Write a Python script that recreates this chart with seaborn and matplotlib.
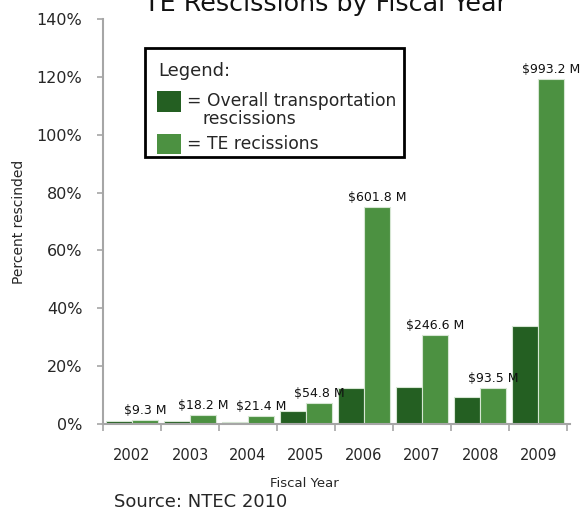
import matplotlib
matplotlib.use("Agg")
import matplotlib.pyplot as plt
from matplotlib.patches import Rectangle
from matplotlib.ticker import FixedLocator, FuncFormatter
import seaborn as sns
import pandas as pd

# Fiscal years and share of funds rescinded (%)
years = ["2002", "2003", "2004", "2005", "2006", "2007", "2008", "2009"]
overall_pct = [1.0, 1.0, 0.8, 4.4, 12.6, 12.9, 9.3, 33.8]
te_pct = [1.5, 3.2, 2.8, 7.3, 75.0, 30.7, 12.4, 119.3]
# TE rescission amounts in millions of dollars
te_amount = [9.3, 18.2, 21.4, 54.8, 601.8, 246.6, 93.5, 993.2]
series_names = ["Overall transportation rescissions", "TE recissions"]
colors = ["#245f22", "#4c9141"]

df = pd.DataFrame({
    "year": years * 2,
    "pct": overall_pct + te_pct,
    "series": [series_names[0]] * len(years) + [series_names[1]] * len(years),
})

sns.set_theme(style="white")
plt.rcParams["font.family"] = ["DejaVu Sans"]

W, H = 583, 512
fig = plt.figure(figsize=(W / 100, H / 100), dpi=100)


def fx(x):
    return x / W


def fy(y):
    return 1 - y / H


AX_L, AX_R, AX_T, AX_B = 103, 570, 19, 424
ax = fig.add_axes([fx(AX_L), fy(AX_B), (AX_R - AX_L) / W, (AX_B - AX_T) / H])

sns.barplot(data=df, x="year", y="pct", hue="series", palette=colors,
            saturation=1, width=0.91, gap=0, edgecolor="#d6e6d3",
            linewidth=0.8, legend=False, ax=ax)

ax.set_ylim(0, 140)
ax.set_xlim(-0.5, 7.55)
ax.set_yticks(range(0, 141, 20))
ax.yaxis.set_major_formatter(FuncFormatter(lambda v, p: f"{int(v)}%"))
ax.tick_params(axis="y", which="major", direction="out", length=4.3, width=1.2,
               color="#a6a6a6", labelsize=11.5, pad=10.5, left=True)

# category labels centred, tick marks at category boundaries
ax.set_xticks(range(len(years)))
ax.set_xticklabels(years)
ax.tick_params(axis="x", which="major", length=0, labelsize=10.5, pad=17)
ax.xaxis.set_minor_locator(FixedLocator([i - 0.5 for i in range(len(years) + 1)]))
ax.tick_params(axis="x", which="minor", direction="out", length=5, width=1.2,
               color="#a6a6a6", bottom=True)

for side in ["top", "right"]:
    ax.spines[side].set_visible(False)
for side in ["left", "bottom"]:
    ax.spines[side].set_color("#a6a6a6")
    ax.spines[side].set_linewidth(1.5)

ax.set_xlabel("Fiscal Year", fontsize=9.5)
ax.set_ylabel("Percent rescinded", fontsize=10, va="center")
ax.yaxis.set_label_coords((19 - AX_L) / (AX_R - AX_L), 0.5)
ax.xaxis.set_label_coords((304 - AX_L) / (AX_R - AX_L),
                          (AX_B - 477) / (AX_B - AX_T))

# dollar amounts above the TE bars
te_bars = ax.containers[1]
ax.bar_label(te_bars, labels=[f"${v} M" for v in te_amount],
             fontsize=9, padding=2, color="#111111")

# title (runs off the top edge)
fig.text(fx(326), fy(11), "TE Rescissions by Fiscal Year", fontsize=18.3,
         ha="center", va="baseline", color="#111111")

# legend box
fig.add_artist(Rectangle((fx(145), fy(157)), fx(404) - fx(145), (157 - 48) / H,
                         transform=fig.transFigure, facecolor="white",
                         edgecolor="black", linewidth=2, zorder=5))
fig.text(fx(158), fy(71), "Legend:", fontsize=13, va="center", zorder=6)
fig.add_artist(Rectangle((fx(157), fy(112)), fx(181) - fx(157), 21 / H,
                         transform=fig.transFigure, facecolor=colors[0],
                         edgecolor="none", zorder=6))
fig.text(fx(187), fy(101), "= Overall transportation", fontsize=12.3,
         va="center", zorder=6)
fig.text(fx(203), fy(119), "rescissions", fontsize=12.3, va="center", zorder=6)
fig.add_artist(Rectangle((fx(157), fy(154)), fx(181) - fx(157), 20 / H,
                         transform=fig.transFigure, facecolor=colors[1],
                         edgecolor="none", zorder=6))
fig.text(fx(187), fy(144), "= TE recissions", fontsize=12.3, va="center", zorder=6)

# source note
fig.text(fx(114), fy(502), "Source: NTEC 2010", fontsize=13, va="center")

fig.savefig("out.png", dpi=100)
